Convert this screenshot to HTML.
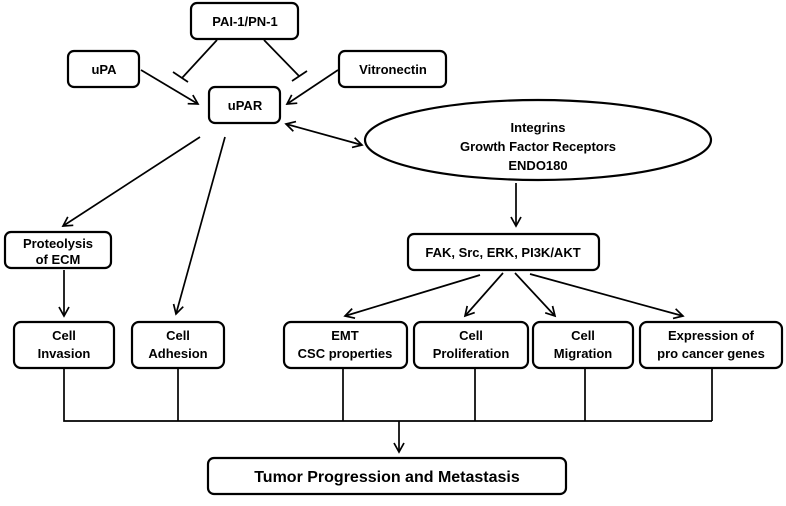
<!DOCTYPE html>
<html><head><style>
body{margin:0;background:#fff;}
svg text{font-family:"Liberation Sans",Arial,sans-serif;font-weight:bold;font-size:13px;text-anchor:middle;fill:#000;}
</style></head><body>
<svg width="786" height="501" viewBox="0 0 786 501" xmlns="http://www.w3.org/2000/svg">
<defs><marker id="a" markerWidth="12" markerHeight="12" refX="10" refY="6" orient="auto" markerUnits="userSpaceOnUse"><path d="M1,1 L10,6 L1,11" fill="none" stroke="#000" stroke-width="1.7"/></marker>
<marker id="s" markerWidth="12" markerHeight="12" refX="10" refY="6" orient="auto-start-reverse" markerUnits="userSpaceOnUse"><path d="M1,1 L10,6 L1,11" fill="none" stroke="#000" stroke-width="1.7"/></marker></defs>
<g fill="#fff" stroke="#000" stroke-width="2.2">
<rect x="191" y="3" width="107" height="36" rx="6"/>
<rect x="68" y="51" width="71" height="36" rx="6"/>
<rect x="339" y="51" width="107" height="36" rx="6"/>
<rect x="209" y="87" width="71" height="36" rx="6"/>
<ellipse cx="538" cy="140" rx="173" ry="40"/>
<rect x="5" y="232" width="106" height="36" rx="6"/>
<rect x="408" y="234" width="191" height="36" rx="6"/>
<rect x="14" y="322" width="100" height="46" rx="7"/>
<rect x="132" y="322" width="92" height="46" rx="7"/>
<rect x="284" y="322" width="123" height="46" rx="7"/>
<rect x="414" y="322" width="114" height="46" rx="7"/>
<rect x="533" y="322" width="100" height="46" rx="7"/>
<rect x="640" y="322" width="142" height="46" rx="7"/>
<rect x="208" y="458" width="358" height="36" rx="6"/>
</g>
<g stroke="#000" stroke-width="1.7" fill="none">
<line x1="141" y1="70" x2="198" y2="104" marker-end="url(#a)"/>
<line x1="338" y1="70" x2="287" y2="104" marker-end="url(#a)"/>
<line x1="217" y1="40" x2="182" y2="78"/><line x1="173" y1="72" x2="188" y2="82"/>
<line x1="264" y1="40" x2="299" y2="76"/><line x1="292" y1="81" x2="307" y2="71"/>
<line x1="286" y1="124" x2="362" y2="145" marker-start="url(#s)" marker-end="url(#a)"/>
<line x1="200" y1="137" x2="63" y2="226" marker-end="url(#a)"/>
<line x1="225" y1="137" x2="176" y2="314" marker-end="url(#a)"/>
<line x1="64" y1="270" x2="64" y2="316" marker-end="url(#a)"/>
<line x1="516" y1="183" x2="516" y2="226" marker-end="url(#a)"/>
<line x1="480" y1="275" x2="345" y2="316" marker-end="url(#a)"/>
<line x1="503" y1="273" x2="465" y2="316" marker-end="url(#a)"/>
<line x1="515" y1="273" x2="555" y2="316" marker-end="url(#a)"/>
<line x1="530" y1="274" x2="683" y2="316" marker-end="url(#a)"/>
<polyline points="64,368 64,421 712,421"/>
<line x1="178" y1="368" x2="178" y2="421"/>
<line x1="343" y1="368" x2="343" y2="421"/>
<line x1="475" y1="368" x2="475" y2="421"/>
<line x1="585" y1="368" x2="585" y2="421"/>
<line x1="712" y1="368" x2="712" y2="421"/>
<line x1="399" y1="421" x2="399" y2="452" marker-end="url(#a)"/>
</g>
<text x="245" y="26">PAI-1/PN-1</text>
<text x="104" y="74">uPA</text>
<text x="393" y="74">Vitronectin</text>
<text x="245" y="110">uPAR</text>
<text x="538" y="132">Integrins</text>
<text x="538" y="151">Growth Factor Receptors</text>
<text x="538" y="170">ENDO180</text>
<text x="58" y="248">Proteolysis</text>
<text x="58" y="264">of ECM</text>
<text x="503" y="257">FAK, Src, ERK, PI3K/AKT</text>
<text x="64" y="340">Cell</text><text x="64" y="358">Invasion</text>
<text x="178" y="340">Cell</text><text x="178" y="358">Adhesion</text>
<text x="345" y="340">EMT</text><text x="345" y="358">CSC properties</text>
<text x="471" y="340">Cell</text><text x="471" y="358">Proliferation</text>
<text x="583" y="340">Cell</text><text x="583" y="358">Migration</text>
<text x="711" y="340">Expression of</text><text x="711" y="358">pro cancer genes</text>
<text x="387" y="482" style="font-size:16px">Tumor Progression and Metastasis</text>
</svg>
</body></html>
